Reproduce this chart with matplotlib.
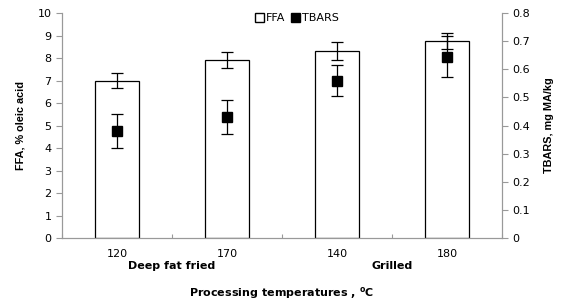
import numpy as np
import matplotlib
matplotlib.use("Agg")
import matplotlib.pyplot as plt
from matplotlib.patches import Patch

temps = ["120", "170", "140", "180"]
groups = ["Deep fat fried", "Grilled"]
ffa = [7.0, 7.9, 8.3, 8.75]
ffa_err = [0.35, 0.35, 0.4, 0.35]
tbars = [0.38, 0.43, 0.56, 0.645]
tbars_err = [0.06, 0.06, 0.055, 0.073]

plt.rcParams['font.family'] = ['DejaVu Sans']
fig = plt.figure(figsize=(5.65, 3.03), dpi=100)
ax = fig.add_axes([0.1097, 0.2145, 0.7788, 0.7425])
x = np.arange(len(temps))

ax.bar(x, ffa, width=0.4, color='white', edgecolor='black', linewidth=0.9, zorder=2)
ax.errorbar(x, ffa, yerr=ffa_err, fmt='none', ecolor='black', elinewidth=0.9,
            capsize=4, capthick=0.9, zorder=3)
ax.set_xlim(-0.5, len(temps) - 0.5)
ax.set_ylim(0, 10)
ax.set_yticks(range(0, 11))

ax2 = ax.twinx()
ax2.errorbar(x, tbars, yerr=tbars_err, fmt='s', color='black', ms=7,
             elinewidth=0.9, capsize=4, capthick=0.9, zorder=4)
ax2.set_ylim(0, 0.8)
ax2.set_yticks(np.arange(0, 0.81, 0.1))
ax2.set_yticklabels(['0'] + ['%.1f' % v for v in np.arange(0.1, 0.81, 0.1)])

for a in (ax, ax2):
    for s in a.spines.values():
        s.set_color('#999999')
    a.spines['top'].set_visible(False)
    a.tick_params(axis='y', colors='#999999', labelcolor='black', labelsize=8, length=4, width=0.8)

ax.set_xticks(np.arange(-0.5, len(temps), 1.0))
ax.set_xticklabels([])
ax.tick_params(axis='x', direction='in', length=3, colors='#999999')
for i, t in enumerate(temps):
    ax.text(i, -0.071, t, transform=ax.get_xaxis_transform(), ha='center', va='center', fontsize=8)
for i, g in enumerate(groups):
    ax.text(2 * i + 0.5, -0.124, g, transform=ax.get_xaxis_transform(), ha='center', va='center',
            fontsize=8, fontweight='bold')
ax.text(1.5, -0.244, 'Processing temperatures , $^{\\mathbf{o}}$C', transform=ax.get_xaxis_transform(),
        ha='center', va='center', fontsize=8, fontweight='bold')

ax.set_ylabel('FFA, % oleic acid', family='Liberation Sans', fontweight='bold', fontsize=7.8, labelpad=9)
ax2.set_ylabel('TBARS, mg MA/kg', family='Liberation Sans', fontweight='bold', fontsize=7.8, labelpad=10)

handles = [Patch(facecolor='white', edgecolor='black', label='FFA'),
           Patch(facecolor='black', edgecolor='black', label='TBARS')]
fig.legend(handles=handles, loc='center', bbox_to_anchor=(0.525, 0.94), ncol=2, frameon=False,
           fontsize=8, handlelength=0.8, handleheight=0.8, handletextpad=0.2, columnspacing=0.5)

fig.savefig('out.png', dpi=100)
